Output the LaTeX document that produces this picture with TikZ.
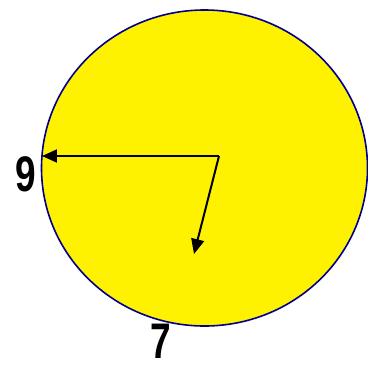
\documentclass[tikz,border=0pt]{standalone}
\usepackage{fontspec}
\setmainfont{Liberation Sans}
\usetikzlibrary{shapes.geometric, arrows.meta, positioning}

\begin{document}
\begin{tikzpicture}[
        x=1pt, y=-1pt,
        face/.style={ellipse, draw={rgb,255:red,0;green,0;blue,140}, line width=1.6pt, fill=yellow, minimum width=326pt, minimum height=316pt, inner sep=0pt},
        hand/.style={-{Triangle[length=15pt, width=13pt]}, line width=2pt, draw=black},
        num/.style={font=\fontsize{50}{50}\selectfont\bfseries, xscale=0.74, inner sep=0pt}
    ]
        \useasboundingbox (0,0) rectangle (368,365);
        \node[face] (face) at (204.5, 168) {};
        \coordinate (hub) at (219, 156);
        \coordinate (tipnine) at (42, 156);
        \coordinate (tipseven) at (194, 254);
        \draw[hand] (hub) -- (tipnine);
        \draw[hand] (hub) -- (tipseven);
        \node[num] (nine) at (26, 174) {9};
        \node[num] (seven) at (161, 341) {7};
    \end{tikzpicture}
\end{document}
